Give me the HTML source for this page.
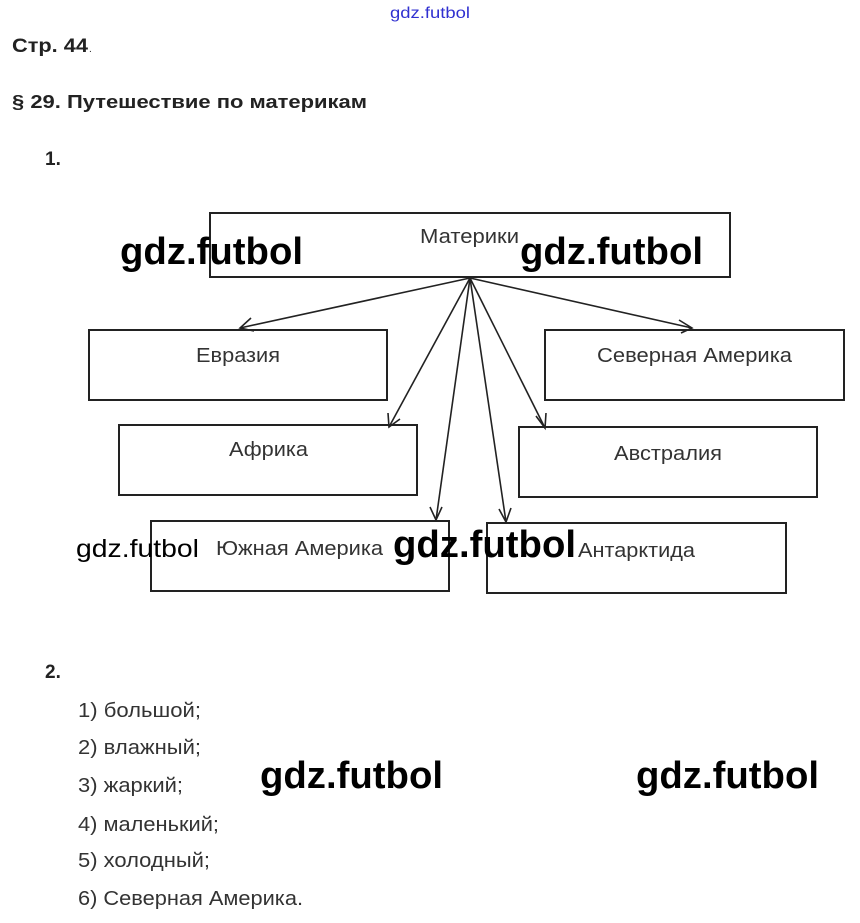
<!DOCTYPE html>
<html><head><meta charset="utf-8">
<style>
html,body{margin:0;padding:0;background:#fff;}
svg{display:block;}
</style></head>
<body>
<svg width="860" height="923" xmlns="http://www.w3.org/2000/svg" font-family="Liberation Sans, sans-serif">
<rect width="860" height="923" fill="#fff"/>
<text x="390" y="18" font-size="16" fill="#3030d0" textLength="80" lengthAdjust="spacingAndGlyphs">gdz.futbol</text>
<text x="12" y="52" font-size="19" font-weight="bold" fill="#222" textLength="76" lengthAdjust="spacingAndGlyphs">Стр. 44</text>
<text x="89" y="52" font-size="10" fill="#222">.</text>
<text x="12" y="108" font-size="18" font-weight="bold" fill="#222" textLength="355" lengthAdjust="spacingAndGlyphs">§ 29. Путешествие по материкам</text>
<text x="45" y="165" font-size="19" font-weight="bold" fill="#222">1.</text>

<g fill="none" stroke="#222" stroke-width="2">
<rect x="210" y="213" width="520" height="64"/>
<rect x="89" y="330" width="298" height="70"/>
<rect x="545" y="330" width="299" height="70"/>
<rect x="119" y="425" width="298" height="70"/>
<rect x="519" y="427" width="298" height="70"/>
<rect x="151" y="521" width="298" height="70"/>
<rect x="487" y="523" width="299" height="70"/>
</g>
<g stroke="#222" stroke-width="1.6" fill="none">
<line x1="470" y1="278" x2="240" y2="328"/>
<line x1="470" y1="278" x2="692" y2="328"/>
<line x1="470" y1="278" x2="389" y2="427"/>
<line x1="470" y1="278" x2="545" y2="428"/>
<line x1="470" y1="278" x2="436" y2="520"/>
<line x1="470" y1="278" x2="506" y2="522"/>
<polyline points="251,318 240,328 254,331"/>
<polyline points="679,320 692,328 681,333"/>
<polyline points="388,413 389,427 400,419"/>
<polyline points="536,416 545,428 546,413"/>
<polyline points="430,507 436,520 442,507"/>
<polyline points="499,509 506,522 511,508"/>
</g>
<g font-size="20" fill="#333">
<text x="420" y="243" textLength="99" lengthAdjust="spacingAndGlyphs">Материки</text>
<text x="196" y="362" textLength="84" lengthAdjust="spacingAndGlyphs">Евразия</text>
<text x="597" y="362" textLength="195" lengthAdjust="spacingAndGlyphs">Северная Америка</text>
<text x="229" y="456" textLength="79" lengthAdjust="spacingAndGlyphs">Африка</text>
<text x="614" y="460" textLength="108" lengthAdjust="spacingAndGlyphs">Австралия</text>
<text x="216" y="555" textLength="167" lengthAdjust="spacingAndGlyphs">Южная Америка</text>
<text x="578" y="557" textLength="117" lengthAdjust="spacingAndGlyphs">Антарктида</text>
</g>
<g font-weight="bold" font-size="38" fill="#000">
<text x="120" y="264" textLength="183" lengthAdjust="spacingAndGlyphs">gdz.futbol</text>
<text x="520" y="264" textLength="183" lengthAdjust="spacingAndGlyphs">gdz.futbol</text>
<text x="393" y="557" textLength="183" lengthAdjust="spacingAndGlyphs">gdz.futbol</text>
<text x="260" y="788" textLength="183" lengthAdjust="spacingAndGlyphs">gdz.futbol</text>
<text x="636" y="788" textLength="183" lengthAdjust="spacingAndGlyphs">gdz.futbol</text>
</g>
<text x="76" y="557" font-size="25" fill="#000" textLength="123" lengthAdjust="spacingAndGlyphs">gdz.futbol</text>

<text x="45" y="678" font-size="19" font-weight="bold" fill="#222">2.</text>
<g font-size="20" fill="#333">
<text x="78" y="717" textLength="123" lengthAdjust="spacingAndGlyphs">1) большой;</text>
<text x="78" y="754" textLength="123" lengthAdjust="spacingAndGlyphs">2) влажный;</text>
<text x="78" y="792" textLength="105" lengthAdjust="spacingAndGlyphs">3) жаркий;</text>
<text x="78" y="831" textLength="141" lengthAdjust="spacingAndGlyphs">4) маленький;</text>
<text x="78" y="867" textLength="132" lengthAdjust="spacingAndGlyphs">5) холодный;</text>
<text x="78" y="905" textLength="225" lengthAdjust="spacingAndGlyphs">6) Северная Америка.</text>
</g>
</svg>
</body></html>
